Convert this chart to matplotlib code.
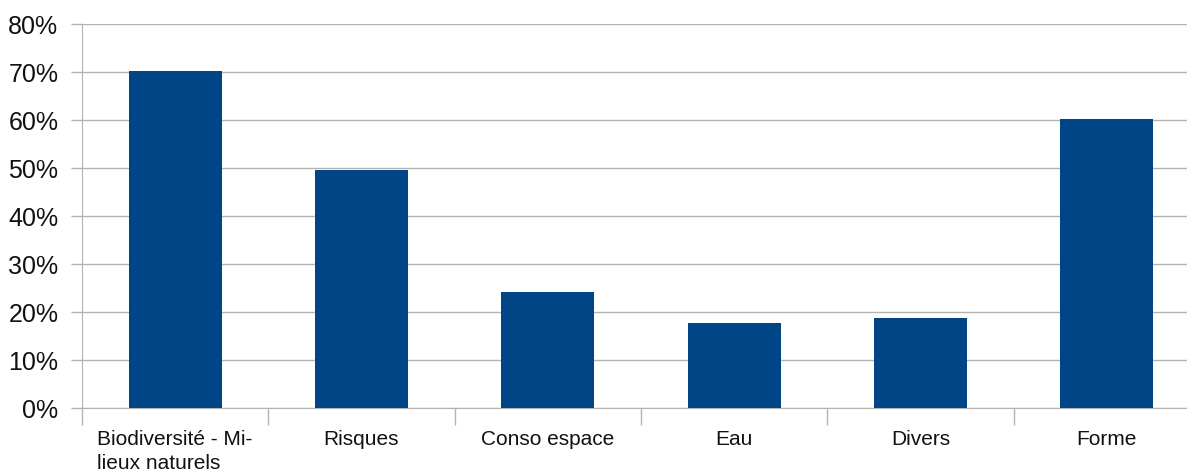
import matplotlib.pyplot as plt
from matplotlib.ticker import FixedLocator, PercentFormatter
import numpy as np

categories = ["Biodiversité - Mi-\nlieux naturels", "Risques", "Conso espace",
              "Eau", "Divers", "Forme"]
shares = [70.2, 49.6, 24.2, 17.7, 18.8, 60.2]

plt.rcParams['font.family'] = ['Liberation Sans', 'DejaVu Sans']

fig = plt.figure(figsize=(11.87, 4.70), dpi=100)
ax = fig.add_axes([82 / 1187, 62 / 470, 1118 / 1187, 384 / 470])

x = np.arange(len(categories))
ax.bar(x, shares, width=0.5, color='#004586', zorder=3)

ax.set_xlim(-0.5, len(categories) - 0.5)
ax.set_ylim(0, 80)
ax.set_yticks(np.arange(0, 81, 10))
ax.yaxis.set_major_formatter(PercentFormatter(decimals=0))
ax.grid(axis='y', color='#b3b3b3', linewidth=1, zorder=0)

ax.set_xticks(x)
ax.set_xticklabels(categories, fontsize=15, multialignment='left',
                   linespacing=1.3)
ax.xaxis.set_minor_locator(FixedLocator(np.arange(-0.5, len(categories), 1)))
ax.tick_params(axis='x', which='major', length=0, pad=16, labelcolor='#111111')
ax.tick_params(axis='x', which='minor', length=12, color='#b3b3b3', width=1)
ax.tick_params(axis='y', length=8, color='#b3b3b3', width=1, pad=9,
               labelsize=18, labelcolor='#111111')

for side in ['top', 'right']:
    ax.spines[side].set_visible(False)
ax.spines['left'].set_color('#b3b3b3')
ax.spines['bottom'].set_color('#b3b3b3')

fig.savefig('out.png', dpi=100)
